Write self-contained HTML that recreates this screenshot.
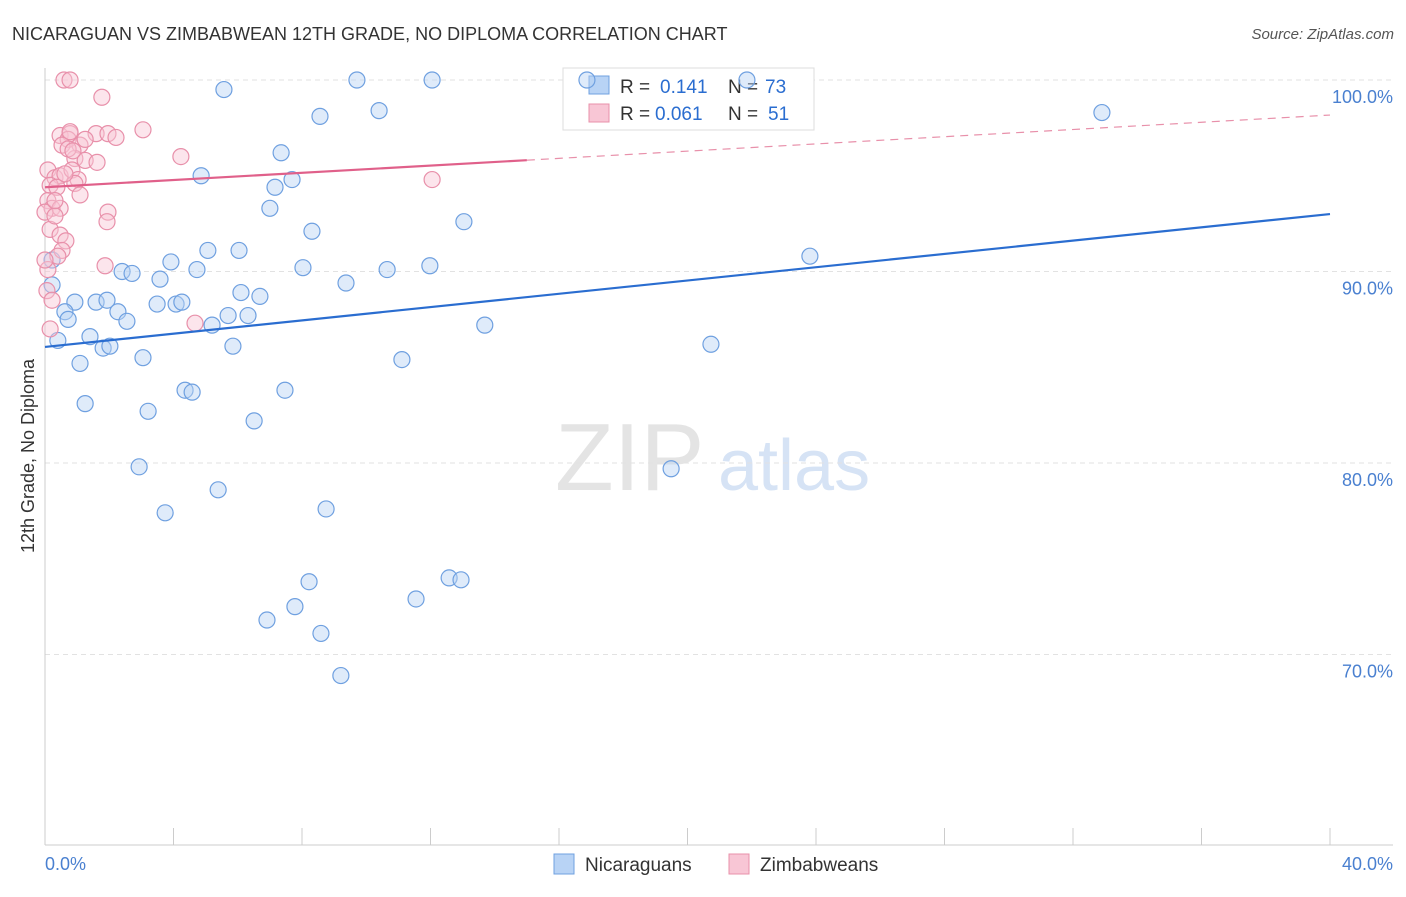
<!DOCTYPE html>
<html><head><meta charset="utf-8"><style>
body{margin:0;background:#fff;font-family:"Liberation Sans",sans-serif;}
svg text{font-family:"Liberation Sans",sans-serif;}
</style></head><body>
<svg id="chart" width="1406" height="892" xmlns="http://www.w3.org/2000/svg">
<text x="12" y="40" font-size="18" fill="#333">NICARAGUAN VS ZIMBABWEAN 12TH GRADE, NO DIPLOMA CORRELATION CHART</text>
<text x="1394" y="39" font-size="15" fill="#555" text-anchor="end" font-style="italic">Source: ZipAtlas.com</text>
<g>
<text x="555" y="490" font-size="96" fill="#e4e4e4" font-family="Liberation Serif">ZIP</text>
<text x="718" y="490" font-size="72" fill="#d6e3f5">atlas</text>
</g>
<g id="grid"></g>
<g id="axes"></g>
<g>
<rect x="563" y="68" width="251" height="62" fill="#fff" stroke="#ddd"/>
<rect x="589" y="76" width="20" height="18" fill="#b8d3f5" stroke="#6fa0e0"/>
<text x="620" y="93" font-size="19" fill="#333">R = </text><text x="660" y="93" font-size="19" fill="#2a6dd0">0.141</text>
<text x="728" y="93" font-size="19" fill="#333">N = </text><text x="765" y="93" font-size="19" fill="#2a6dd0">73</text>
<rect x="589" y="104" width="20" height="18" fill="#f8c6d5" stroke="#e890aa"/>
<text x="620" y="120" font-size="19" fill="#333">R = </text><text x="655" y="120" font-size="19" fill="#2a6dd0">0.061</text>
<text x="728" y="120" font-size="19" fill="#333">N = </text><text x="768" y="120" font-size="19" fill="#2a6dd0">51</text>
</g>
<g id="pts"></g>
<g id="trend"></g>
<g>
<rect x="554" y="854" width="20" height="20" fill="#b8d3f5" stroke="#6fa0e0"/>
<text x="585" y="871" font-size="19" fill="#333">Nicaraguans</text>
<rect x="729" y="854" width="20" height="20" fill="#f8c6d5" stroke="#e890aa"/>
<text x="760" y="871" font-size="19" fill="#333">Zimbabweans</text>
</g>
<text transform="translate(34,456) rotate(-90)" font-size="18" fill="#333" text-anchor="middle">12th Grade, No Diploma</text>
</svg>
<script>
const yTicks=[100,90,80,70];
const yTickLabels=["100.0%","90.0%","80.0%","70.0%"];
const xEndLabels=["0.0%","40.0%"];
const blueX=[0.22,0.22,0.40,0.93,0.62,0.72,1.40,1.09,1.25,1.59,1.81,2.02,1.93,2.27,2.40,2.55,2.71,3.05,3.21,2.93,3.49,3.58,3.74,3.92,4.08,4.26,4.36,4.58,4.73,4.86,5.07,5.20,5.39,5.57,5.70,5.85,6.04,6.10,6.32,6.51,6.69,6.91,7.00,7.16,7.35,7.47,7.69,7.78,8.03,8.22,8.31,8.56,8.59,8.75,9.21,9.37,9.71,10.40,10.65,11.11,11.55,11.98,12.05,12.58,12.95,13.04,13.69,16.87,19.49,20.73,21.85,23.81,32.90];
const blueY=[90.6,89.3,86.4,88.4,87.9,87.5,86.6,85.2,83.1,88.4,86.0,86.1,88.5,87.9,90.0,87.4,89.9,85.5,82.7,79.8,88.3,89.6,77.4,90.5,88.3,88.4,83.8,83.7,90.1,95.0,91.1,87.2,78.6,99.5,87.7,86.1,91.1,88.9,87.7,82.2,88.7,71.8,93.3,94.4,96.2,83.8,94.8,72.5,90.2,73.8,92.1,98.1,71.1,77.6,68.9,89.4,100,98.4,90.1,85.4,72.9,90.3,100,74.0,73.9,92.6,87.2,100,79.7,86.2,100,90.8,98.3];
const pinkX=[0.59,0.78,1.77,0.47,0.78,0.72,0.53,1.09,1.59,1.96,2.21,3.05,0.93,1.25,1.62,0.09,0.31,0.47,0.84,1.03,0.16,0.37,0.93,1.09,0.09,0.22,0.47,1.96,1.93,0.16,0.47,0.65,0.53,0.40,1.87,0.06,0.22,0.16,4.23,4.67,12.05,0.72,0.87,0.62,0,0.31,1.25,0.09,0.31,0.78,0];
const pinkY=[100,100,99.1,97.1,97.2,96.9,96.6,96.6,97.2,97.2,97.0,97.4,95.9,95.8,95.7,95.3,94.9,95.0,95.3,94.8,94.5,94.4,94.6,94.0,93.7,93.3,93.3,93.1,92.6,92.2,91.9,91.6,91.1,90.8,90.3,89.0,88.5,87.0,96.0,87.3,94.8,96.4,96.3,95.1,93.1,92.9,96.9,90.1,93.7,97.3,90.6];
const blueTrend=[86.06,93.0];
const pinkTrend=[94.4,98.17];
const pinkSolidEnd=15;
const NS="http://www.w3.org/2000/svg";
const X0=45,X1=1330,Y100=80,PXPER=19.15;
function sx(v){return X0+(X1-X0)*v/40;}
function sy(v){return Y100+(100-v)*PXPER;}
function mk(tag,attrs,parent){const e=document.createElementNS(NS,tag);for(const k in attrs)e.setAttribute(k,attrs[k]);parent.appendChild(e);return e;}
const grid=document.getElementById('grid'),axes=document.getElementById('axes'),pts=document.getElementById('pts'),trend=document.getElementById('trend');
yTicks.forEach((t,i)=>{
 const l=mk('line',{x1:X0,x2:1393,y1:sy(t),y2:sy(t),stroke:'#e2e2e2','stroke-dasharray':'5,4'},grid);
 
 
 const tx=mk('text',{x:1393,y:sy(t)+23,'font-size':18,fill:'#4a80d0','text-anchor':'end'},axes);
 tx.textContent=yTickLabels[i];
 
 
});
mk('line',{x1:X0,x2:X0,y1:68,y2:845,stroke:'#ccc'},axes);
mk('line',{x1:X0,x2:1393,y1:845,y2:845,stroke:'#ccc'},axes);
for(let i=0;i<=10;i++){
 const t=mk('line',{x1:sx(i*4),x2:sx(i*4),y1:828,y2:845,stroke:'#ccc'},axes);
 
 
}
[[0,'start',45],[40,'end',1393]].forEach((d,i)=>{
 const t=mk('text',{x:d[2],y:870,'font-size':18,fill:'#4a80d0','text-anchor':d[1]},axes);
 t.textContent=xEndLabels[i];
 
 
});
function dots(xs,ys,fill,stroke,name){
 xs.forEach((x,i)=>{
  const c=mk('circle',{cx:sx(x),cy:sy(ys[i]),r:8,fill:fill,'fill-opacity':0.45,stroke:stroke,'stroke-width':1.2},pts);
  
  
 });
}
dots(blueX,blueY,'#b8d3f5','#6fa0e0','nicaraguan-point');
dots(pinkX,pinkY,'#f8c6d5','#e890aa','zimbabwean-point');
const bl=mk('line',{x1:sx(0),y1:sy(blueTrend[0]),x2:sx(40),y2:sy(blueTrend[1]),stroke:'#2a6dd0','stroke-width':2.2},trend);


const pm=pinkTrend[0]+(pinkTrend[1]-pinkTrend[0])*pinkSolidEnd/40;
const pl=mk('line',{x1:sx(0),y1:sy(pinkTrend[0]),x2:sx(pinkSolidEnd),y2:sy(pm),stroke:'#e0608a','stroke-width':2.2},trend);


const pd=mk('line',{x1:sx(pinkSolidEnd),y1:sy(pm),x2:sx(40),y2:sy(pinkTrend[1]),stroke:'#e890aa','stroke-width':1.2,'stroke-dasharray':'8,6'},trend);


</script>
</body></html>
